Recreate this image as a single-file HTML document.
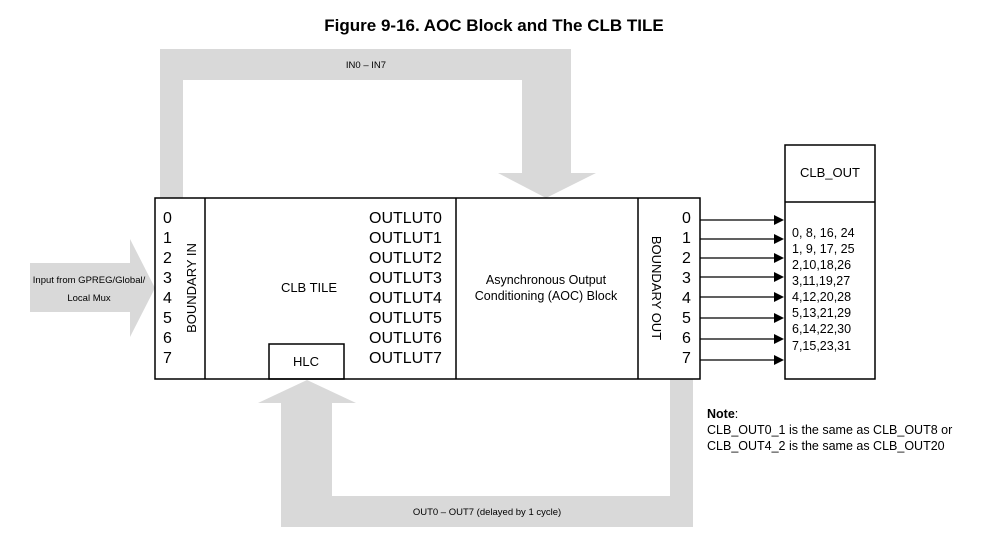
<!DOCTYPE html>
<html><head><meta charset="utf-8"><style>
html,body{margin:0;padding:0;background:#fff;}
svg{display:block;font-family:"Liberation Sans",Arial,sans-serif;}
</style></head><body>
<svg width="988" height="542" viewBox="0 0 988 542" xmlns="http://www.w3.org/2000/svg">
<text x="494" y="31" text-anchor="middle" font-size="17" font-weight="bold">Figure 9-16. AOC Block and The CLB TILE</text>
<!-- top band -->
<path d="M160,198 L160,49 L571,49 L571,173 L596,173 L546,198 L498,173 L522,173 L522,80 L183,80 L183,198 Z" fill="#d9d9d9"/>
<text x="366" y="68" text-anchor="middle" font-size="9.5">IN0 – IN7</text>
<!-- left arrow -->
<path d="M30,263 L130,263 L130,239 L155,288 L130,337 L130,312 L30,312 Z" fill="#d9d9d9"/>
<text x="89" y="283" text-anchor="middle" font-size="9.5">Input from GPREG/Global/</text>
<text x="89" y="301" text-anchor="middle" font-size="9.5">Local Mux</text>
<!-- bottom band -->
<path d="M670,379 L693,379 L693,527 L281,527 L281,403 L258,403 L307,380 L356,403 L332,403 L332,496 L670,496 Z" fill="#d9d9d9"/>
<text x="487" y="515" text-anchor="middle" font-size="9.5">OUT0 – OUT7 (delayed by 1 cycle)</text>
<!-- main box -->
<g fill="none" stroke="#000" stroke-width="1.5">
<rect x="155" y="198" width="545" height="181"/>
<line x1="205" y1="198" x2="205" y2="379"/>
<line x1="456" y1="198" x2="456" y2="379"/>
<line x1="638" y1="198" x2="638" y2="379"/>
<rect x="269" y="344" width="75" height="35"/>
<rect x="785" y="145" width="90" height="234"/>
<line x1="785" y1="202" x2="875" y2="202"/>
</g>
<g font-size="16">
<text x="163" y="223">0</text><text x="163" y="243">1</text><text x="163" y="263">2</text><text x="163" y="283">3</text>
<text x="163" y="303">4</text><text x="163" y="323">5</text><text x="163" y="343">6</text><text x="163" y="363">7</text>
</g>
<text transform="translate(196,288) rotate(-90)" text-anchor="middle" font-size="13">BOUNDARY IN</text>
<text x="309" y="292" text-anchor="middle" font-size="13">CLB TILE</text>
<text x="306" y="366" text-anchor="middle" font-size="13">HLC</text>
<g font-size="16">
<text x="369" y="223">OUTLUT0</text><text x="369" y="243">OUTLUT1</text><text x="369" y="263">OUTLUT2</text><text x="369" y="283">OUTLUT3</text>
<text x="369" y="303">OUTLUT4</text><text x="369" y="323">OUTLUT5</text><text x="369" y="343">OUTLUT6</text><text x="369" y="363">OUTLUT7</text>
</g>
<text x="546" y="284" text-anchor="middle" font-size="12.5">Asynchronous Output</text>
<text x="546" y="300" text-anchor="middle" font-size="12.5">Conditioning (AOC) Block</text>
<text transform="translate(652,288) rotate(90)" text-anchor="middle" font-size="13">BOUNDARY OUT</text>
<g font-size="16">
<text x="682" y="223">0</text><text x="682" y="243">1</text><text x="682" y="263">2</text><text x="682" y="283">3</text>
<text x="682" y="303">4</text><text x="682" y="323">5</text><text x="682" y="343">6</text><text x="682" y="363">7</text>
</g>
<g stroke="#000" stroke-width="1.2">
<line x1="700" y1="220" x2="775" y2="220"/><line x1="700" y1="239" x2="775" y2="239"/>
<line x1="700" y1="258" x2="775" y2="258"/><line x1="700" y1="277" x2="775" y2="277"/>
<line x1="700" y1="297" x2="775" y2="297"/><line x1="700" y1="318" x2="775" y2="318"/>
<line x1="700" y1="339" x2="775" y2="339"/><line x1="700" y1="360" x2="775" y2="360"/>
</g>
<g fill="#000">
<path d="M774,215 L784,220 L774,225Z"/><path d="M774,234 L784,239 L774,244Z"/>
<path d="M774,253 L784,258 L774,263Z"/><path d="M774,272 L784,277 L774,282Z"/>
<path d="M774,292 L784,297 L774,302Z"/><path d="M774,313 L784,318 L774,323Z"/>
<path d="M774,334 L784,339 L774,344Z"/><path d="M774,355 L784,360 L774,365Z"/>
</g>
<text x="830" y="177" text-anchor="middle" font-size="13">CLB_OUT</text>
<g font-size="12.5">
<text x="792" y="237">0, 8, 16, 24</text><text x="792" y="253">1, 9, 17, 25</text>
<text x="792" y="269">2,10,18,26</text><text x="792" y="285">3,11,19,27</text>
<text x="792" y="301">4,12,20,28</text><text x="792" y="317">5,13,21,29</text>
<text x="792" y="333">6,14,22,30</text><text x="792" y="350">7,15,23,31</text>
</g>
<g font-size="12.5">
<text x="707" y="418"><tspan font-weight="bold">Note</tspan>:</text>
<text x="707" y="434">CLB_OUT0_1 is the same as CLB_OUT8 or</text>
<text x="707" y="450">CLB_OUT4_2 is the same as CLB_OUT20</text>
</g>
</svg>
</body></html>
